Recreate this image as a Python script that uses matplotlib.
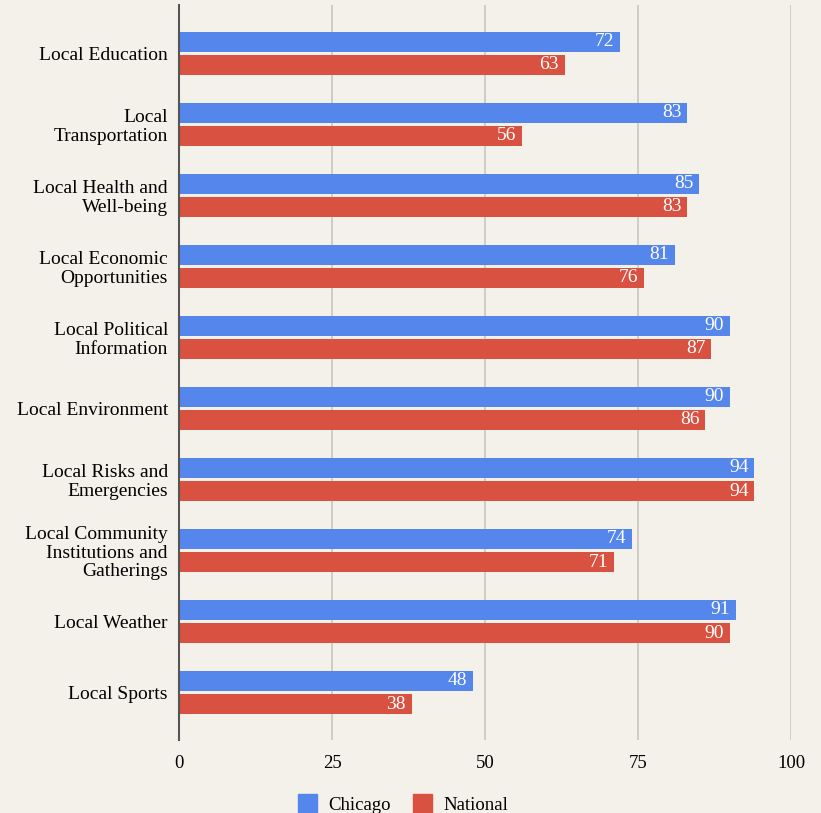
import matplotlib.pyplot as plt
from matplotlib.patches import Patch

categories = [
    "Local Education",
    "Local\nTransportation",
    "Local Health and\nWell-being",
    "Local Economic\nOpportunities",
    "Local Political\nInformation",
    "Local Environment",
    "Local Risks and\nEmergencies",
    "Local Community\nInstitutions and\nGatherings",
    "Local Weather",
    "Local Sports",
]
chicago = [72, 83, 85, 81, 90, 90, 94, 74, 91, 48]
national = [63, 56, 83, 76, 87, 86, 94, 71, 90, 38]
xticks = [0, 25, 50, 75, 100]

BG = "#f4f1ea"
BLUE = "#5586ec"
RED = "#d95140"

plt.rcParams["font.family"] = ["Liberation Serif", "DejaVu Serif"]

fig = plt.figure(figsize=(8.21, 8.13), dpi=100, facecolor=BG)
ax = fig.add_axes([179 / 821, 1 - 740 / 813, 612 / 821, 735 / 813])
ax.set_facecolor(BG)

pos = list(range(len(categories)))
h = 0.28
off = 0.162
ax.barh([p - off for p in pos], chicago, height=h, color=BLUE, zorder=3)
ax.barh([p + off for p in pos], national, height=h, color=RED, zorder=3)

for p, v in zip(pos, chicago):
    ax.text(v - 0.9, p - off, str(v), color="white", ha="right", va="center",
            fontsize=14, zorder=4)
for p, v in zip(pos, national):
    ax.text(v - 0.9, p + off, str(v), color="white", ha="right", va="center",
            fontsize=14, zorder=4)

ax.set_xlim(0, 100)
ax.set_ylim(9.669, -0.683)
ax.set_yticks(pos)
ax.set_yticklabels(categories, fontsize=14, linespacing=1.08)
ax.set_xticks(xticks)
ax.set_xticklabels([str(t) for t in xticks], fontsize=13.5)
ax.tick_params(axis="both", length=0)
ax.tick_params(axis="x", pad=11)
ax.tick_params(axis="y", pad=8)

ax.grid(axis="x", color="#c9c6c0", linewidth=1.2, zorder=0)
for side in ["top", "right", "bottom"]:
    ax.spines[side].set_visible(False)
ax.spines["left"].set_color("#555555")
ax.spines["left"].set_linewidth(1.5)
ax.spines["left"].set_zorder(5)

handles = [Patch(color=BLUE, label="Chicago"), Patch(color=RED, label="National")]
fig.legend(handles=handles, loc="center", bbox_to_anchor=(403 / 821, 1 - 804 / 813),
           ncol=2, frameon=False, fontsize=13.5, handlelength=1.0, handleheight=1.2,
           columnspacing=1.2, handletextpad=0.6)

fig.savefig("out.png", dpi=100, facecolor=BG)
